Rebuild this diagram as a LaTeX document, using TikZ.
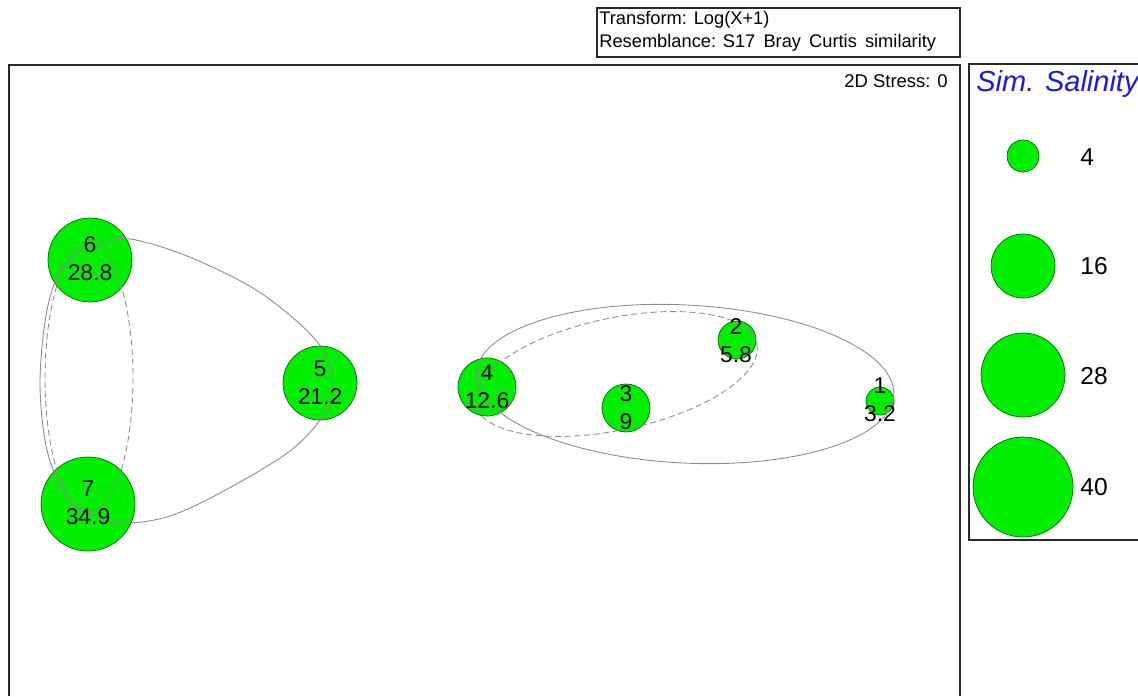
\documentclass[tikz,border=0pt]{standalone}
\usepackage{fontspec}
\setmainfont{Liberation Sans}
\setsansfont{Liberation Sans}

\definecolor{simgreen}{RGB}{0,238,0}
\definecolor{simedge}{RGB}{0,105,0}
\definecolor{contour}{RGB}{140,140,140}
\definecolor{legendblue}{RGB}{25,25,225}
\definecolor{frame}{RGB}{40,40,40}

\begin{document}
\begin{tikzpicture}[x=0.02cm,y=-0.02cm,
    bubble/.style={fill=simgreen,draw=simedge,line width=0.4pt},
    level/.style={draw=contour,line width=0.5pt},
    lowlevel/.style={level,dash pattern=on 3.5pt off 2pt},
    samplelabel/.style={align=center,font=\fontsize{13}{15.8}\selectfont,inner sep=0pt},
    keylabel/.style={anchor=west,font=\fontsize{14}{16}\selectfont,inner sep=0pt}]

  \useasboundingbox (0,0) rectangle (1138,696);

  % frames
  \draw[frame,line width=0.6pt] (597,8) rectangle (960,57);
  \node[anchor=north west,align=left,inner sep=0pt,
        font=\fontsize{10.4}{13}\selectfont] (info) at (599,11)
    {Transform: Log(X+1)\\Resemblance: S17\,\ Bray\,\ Curtis\,\ similarity};
  \draw[frame,line width=0.6pt] (9,696) -- (9,65) -- (960,65) -- (960,696);
  \draw[frame,line width=0.6pt] (1138,64) -- (969,64) -- (969,540) -- (1138,540);
  \node[anchor=east,inner sep=0pt,font=\fontsize{10.5}{12}\selectfont] (stress) at (948,81) {2D Stress: 0};

  % samples
  \fill[bubble] (90,260) circle (42);
  \fill[bubble] (88,504) circle (47);
  \fill[bubble] (320,383) circle (37);
  \fill[bubble] (487,387) circle (29);
  \fill[bubble] (626,408) circle (24);
  \fill[bubble] (737,340) circle (19);
  \fill[bubble] (880,401) circle (14);

  % similarity contours
  \draw[level] plot[smooth cycle,tension=0.55] coordinates {
    (40,383) (47,310) (64,265) (96,244) (130,239) (187,256) (253,288)
    (300,324) (324,352) (332,383) (324,414) (290,451) (222,492)
    (170,516) (128,523) (96,518) (66,495) (47,450)};
  \draw[lowlevel] (89,378) ellipse [x radius=44, y radius=135];
  \draw[level,rotate around={-3:(685,384)}] (685,384) ellipse [x radius=209, y radius=79];
  \draw[lowlevel,rotate around={12:(616,374)}] (616,374) ellipse [x radius=144, y radius=56];

  % sample labels
  \node[samplelabel] (n6) at (90,259) {6\\28.8};
  \node[samplelabel] (n7) at (88,503) {7\\34.9};
  \node[samplelabel] (n5) at (320,383) {5\\21.2};
  \node[samplelabel] (n4) at (487,387) {4\\12.6};
  \node[samplelabel] (n3) at (626,408) {3\\9};
  \node[samplelabel] (n2) at (736,341) {2\\5.8};
  \node[samplelabel] (n1) at (880,400) {1\\3.2};

  % legend
  \node[anchor=west,inner sep=0pt,text=legendblue,
        font=\fontsize{16.5}{18}\selectfont\itshape] (keytitle) at (976,84) {Sim. Salinity};
  \fill[bubble] (1023,156) circle (16);
  \fill[bubble] (1023,266) circle (32);
  \fill[bubble] (1023,375) circle (42);
  \fill[bubble] (1023,487) circle (50);
  \node[keylabel] (k4)  at (1080,157) {4};
  \node[keylabel] (k16) at (1080,266) {16};
  \node[keylabel] (k28) at (1080,376) {28};
  \node[keylabel] (k40) at (1080,487) {40};
\end{tikzpicture}
\end{document}
